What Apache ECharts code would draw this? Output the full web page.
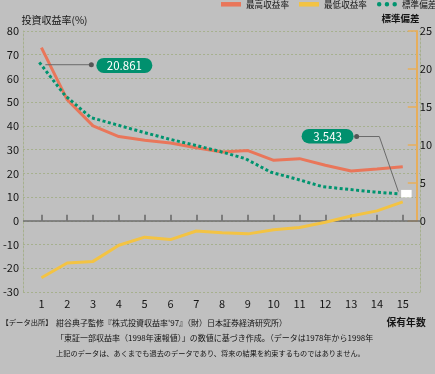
<!DOCTYPE html>
<html><head><meta charset="utf-8">
<script src="https://cdn.jsdelivr.net/npm/echarts@6/dist/echarts.min.js"></script>
<style>html,body{margin:0;padding:0;background:#c0c0c0}#c{width:435px;height:374px}</style>
</head><body><div id="c"></div>
<script>
// ---- data ----
const years = [1,2,3,4,5,6,7,8,9,10,11,12,13,14,15];
const maxReturn = [73, 51, 40, 35.5, 34, 32.8, 30.8, 29, 29.6, 25.5, 26.2, 23.4, 21, 21.8, 22.8];
const minReturn = [-24, -17.8, -17.1, -10.3, -6.9, -7.9, -4.3, -5, -5.5, -3.8, -2.8, -0.6, 2, 4.2, 8];
const stdDev = [20.861, 16.5, 13.6, 12.65, 11.7, 10.8, 10.0, 9.15, 8.2, 6.4, 5.5, 4.5, 4.15, 3.8, 3.543];
const seriesNames = ['最高収益率', '最低収益率', '標準偏差'];
const leftAxisTitle = '投資収益率(%)';
const rightAxisTitle = '標準偏差';
const xAxisTitle = '保有年数';
const noteLines = [
  '【データ出所】',
  '紺谷典子監修『株式投資収益率\'97』（財）日本証券経済研究所）',
  '「東証一部収益率（1998年速報値）」の数値に基づき作成。（データは1978年から1998年',
  '上記のデータは、あくまでも過去のデータであり、将来の結果を約束するものではありません。'
];

// ---- style ----
const FONT = '"Noto Sans CJK JP", "Noto Sans", sans-serif';
const TXT = '#151515';
const GRIDC = '#a6b08e';
const ORANGE = '#e6ae5c';
const RED = '#e9765a', YEL = '#f3c343', GRN = '#00946f';
const GT = 31, GH = 261, GL = 21, GR = 15;
const XMIN = 0.287, XMAX = 15.667;

const chart = echarts.init(document.getElementById('c'), null, {renderer: 'canvas'});
const dotted = {color: GRIDC, type: [2, 2], width: 1};

const option = {
  animation: false,
  backgroundColor: '#c0c0c0',
  textStyle: {fontFamily: FONT, color: TXT},
  legend: {
    left: 221, top: 0, width: 260, padding: 0, itemGap: 10, itemWidth: 20, itemHeight: 4.5,
    textStyle: {fontSize: 8.6, color: TXT, fontFamily: FONT},
    data: [
      {name: seriesNames[0], icon: 'rect'},
      {name: seriesNames[1], icon: 'rect'},
      {name: seriesNames[2], icon: 'path://M0,2.25a2.25,2.25 0 1,0 4.5,0a2.25,2.25 0 1,0 -4.5,0M7.75,2.25a2.25,2.25 0 1,0 4.5,0a2.25,2.25 0 1,0 -4.5,0M15.5,2.25a2.25,2.25 0 1,0 4.5,0a2.25,2.25 0 1,0 -4.5,0'}
    ]
  },
  grid: [
    {left: GL, right: GR, top: GT, height: GH},
    {left: GL, right: GR, top: GT, height: GH * 80 / 110}
  ],
  xAxis: [
    {gridIndex: 0, type: 'value', min: XMIN, max: XMAX,
      axisLine: {show: false}, splitLine: {show: false},
      axisTick: {show: true, inside: true, length: 6, customValues: years, lineStyle: {color: '#666', width: 1.5}},
      axisLabel: {customValues: years, margin: 6, fontSize: 11, color: TXT, fontFamily: FONT}},
    {gridIndex: 1, type: 'value', min: XMIN, max: XMAX, show: false}
  ],
  yAxis: [
    {gridIndex: 0, type: 'value', position: 'left', min: -30, max: 80, interval: 10,
      axisLine: {show: true, lineStyle: dotted}, axisTick: {show: false},
      axisLabel: {margin: 4, fontSize: 11, color: TXT, fontFamily: FONT},
      splitLine: {show: true, lineStyle: dotted}},
    {gridIndex: 0, type: 'value', position: 'right', min: -30, max: 80, interval: 10,
      axisLine: {show: true, lineStyle: dotted}, axisTick: {show: false},
      axisLabel: {show: false}, splitLine: {show: false}},
    {gridIndex: 1, type: 'value', position: 'right', min: 0, max: 25, interval: 5,
      axisLine: {show: true, lineStyle: {color: ORANGE, width: 2}},
      axisTick: {show: true, inside: true, length: 9, lineStyle: {color: ORANGE, width: 1.5}},
      axisLabel: {margin: 3, fontSize: 11, color: TXT, fontFamily: FONT},
      splitLine: {show: false}}
  ],
  series: [
    {name: seriesNames[0], type: 'line', xAxisIndex: 0, yAxisIndex: 0, z: 3,
      data: years.map((y, i) => [y, maxReturn[i]]), showSymbol: false, symbol: 'none',
      color: RED, lineStyle: {color: RED, width: 3}, itemStyle: {color: RED},
      markLine: {silent: true, symbol: 'none', z: 1, label: {show: false},
        lineStyle: {color: '#6e6e6e', type: 'solid', width: 1.5}, data: [{yAxis: 0}]}},
    {name: seriesNames[1], type: 'line', xAxisIndex: 0, yAxisIndex: 0, z: 3,
      data: years.map((y, i) => [y, minReturn[i]]), showSymbol: false, symbol: 'none',
      color: YEL, lineStyle: {color: YEL, width: 3}, itemStyle: {color: YEL}},
    {name: seriesNames[2], type: 'line', xAxisIndex: 1, yAxisIndex: 2, z: 4,
      data: years.map((y, i) => [y, stdDev[i]]), showSymbol: false, symbol: 'none',
      color: GRN, lineStyle: {color: GRN, width: 3, type: [3, 2.5]}, itemStyle: {color: GRN}}
  ]
};
chart.setOption(option);

// ---- annotations derived from data positions ----
const p1 = chart.convertToPixel({seriesIndex: 2}, [years[0], stdDev[0]]);
const pN = chart.convertToPixel({seriesIndex: 2}, [years[years.length - 1], stdDev[stdDev.length - 1]]);
const g = [];
function box(x, y, w, h, text) {
  g.push({type: 'rect', shape: {x: x, y: y, width: w, height: h, r: h / 2}, style: {fill: '#00906e'}, z: 20});
  g.push({type: 'text', x: x + w / 2, y: y + h / 2 + 0.5, z: 21,
    style: {text: text, fill: '#fff', font: '11.5px ' + FONT, align: 'center', verticalAlign: 'middle'}});
}
// 20.861 callout
g.push({type: 'polyline', shape: {points: [[p1[0] + 6, p1[1] + 2.3], [p1[0] + 52, p1[1] + 2.3]]}, style: {stroke: '#6a6a6a', lineWidth: 1}, z: 19});
g.push({type: 'circle', shape: {cx: p1[0] + 52, cy: p1[1] + 2.3, r: 2.5}, style: {fill: '#555'}, z: 19});
box(p1[0] + 57, p1[1] - 4.5, 56, 15, stdDev[0].toFixed(3));
// 3.543 callout
g.push({type: 'polyline', shape: {points: [[pN[0] - 43, pN[1] - 57.4], [pN[0] - 20.3, pN[1] - 57.4], [pN[0] - 1.3, pN[1] - 2.4]]}, style: {stroke: '#6a6a6a', lineWidth: 1}, z: 19});
g.push({type: 'circle', shape: {cx: pN[0] - 43, cy: pN[1] - 57.4, r: 2.5}, style: {fill: '#555'}, z: 19});
box(pN[0] - 98, pN[1] - 65, 52, 14.5, stdDev[stdDev.length - 1].toFixed(3));
g.push({type: 'rect', shape: {x: pN[0] + 1.5, y: pN[1] - 4, width: 10.5, height: 7.5}, style: {fill: '#fff'}, z: 19});

// titles and notes
g.push({type: 'text', x: 21.5, y: 20, style: {text: leftAxisTitle, fill: TXT, font: '10px ' + FONT, verticalAlign: 'middle'}});
g.push({type: 'text', x: 381.5, y: 18.5, style: {text: rightAxisTitle, fill: TXT, font: 'bold 9.5px ' + FONT, verticalAlign: 'middle'}});
g.push({type: 'text', x: 386.5, y: 322.5, style: {text: xAxisTitle, fill: TXT, font: 'bold 9.8px ' + FONT, verticalAlign: 'middle'}});
g.push({type: 'text', x: 1.5, y: 322.5, style: {text: noteLines[0], fill: TXT, font: '7.3px ' + FONT, verticalAlign: 'middle'}});
g.push({type: 'text', x: 56, y: 322.5, style: {text: noteLines[1], fill: TXT, font: '8px ' + FONT, verticalAlign: 'middle'}});
g.push({type: 'text', x: 56, y: 338, style: {text: noteLines[2], fill: TXT, font: '8px ' + FONT, verticalAlign: 'middle'}});
g.push({type: 'text', x: 56, y: 353.5, style: {text: noteLines[3], fill: TXT, font: '7.2px ' + FONT, verticalAlign: 'middle'}});
chart.setOption({graphic: g});
</script>
</body></html>
